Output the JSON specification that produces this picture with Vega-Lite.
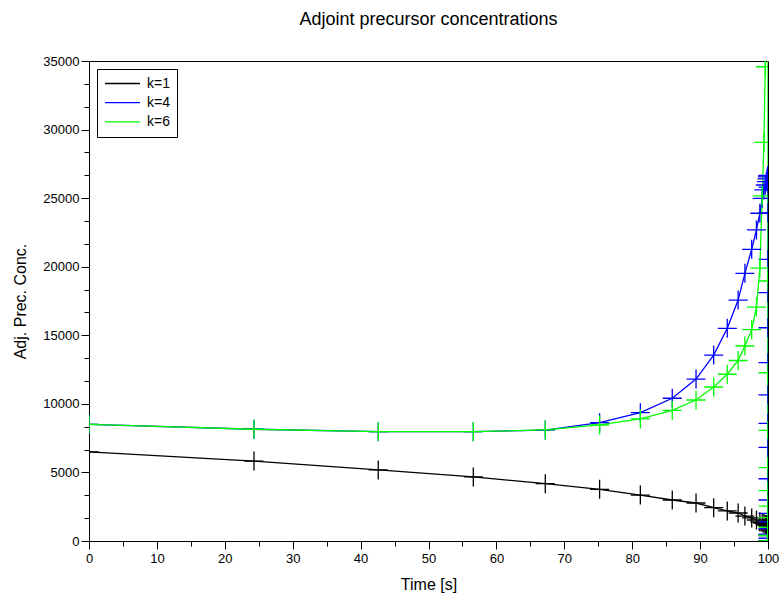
{
  "$schema": "https://vega.github.io/schema/vega-lite/v6.json",
  "width": 679,
  "height": 480,
  "autosize": "none",
  "padding": {"left": 89, "top": 61, "right": 16, "bottom": 59},
  "background": "white",
  "title": {"text": "Adjoint precursor concentrations", "fontSize": 18, "font": "Liberation Sans", "fontWeight": "normal", "color": "black", "offset": 26, "anchor": "middle", "frame": "group"},
  "config": {
    "view": {"stroke": "black", "strokeWidth": 1},
    "axis": {"domainColor": "black", "tickColor": "black", "labelColor": "black", "titleColor": "black", "grid": false, "labelFont": "Liberation Sans", "titleFont": "Liberation Sans", "labelFontSize": 13, "titleFontSize": 16, "titleFontWeight": "normal", "tickWidth": 1, "domainWidth": 1}
  },
  "data": {"values": [
    {"i": 0, "k": "k=1", "t": 0, "v": 6500},
    {"i": 1, "k": "k=1", "t": 24.3, "v": 5830},
    {"i": 2, "k": "k=1", "t": 42.6, "v": 5180},
    {"i": 3, "k": "k=1", "t": 56.6, "v": 4670},
    {"i": 4, "k": "k=1", "t": 67.2, "v": 4180},
    {"i": 5, "k": "k=1", "t": 75.2, "v": 3770},
    {"i": 6, "k": "k=1", "t": 81.2, "v": 3350},
    {"i": 7, "k": "k=1", "t": 85.9, "v": 2990},
    {"i": 8, "k": "k=1", "t": 89.4, "v": 2770},
    {"i": 9, "k": "k=1", "t": 92.0, "v": 2430},
    {"i": 10, "k": "k=1", "t": 94.0, "v": 2190},
    {"i": 11, "k": "k=1", "t": 95.6, "v": 2040},
    {"i": 12, "k": "k=1", "t": 96.6, "v": 1820},
    {"i": 13, "k": "k=1", "t": 97.6, "v": 1680},
    {"i": 14, "k": "k=1", "t": 98.3, "v": 1530},
    {"i": 15, "k": "k=1", "t": 98.8, "v": 1400},
    {"i": 16, "k": "k=1", "t": 99.15, "v": 1330},
    {"i": 17, "k": "k=1", "t": 99.4, "v": 1280},
    {"i": 18, "k": "k=1", "t": 99.6, "v": 1230},
    {"i": 19, "k": "k=1", "t": 99.75, "v": 1190},
    {"i": 20, "k": "k=1", "t": 99.85, "v": 1160},
    {"i": 21, "k": "k=1", "t": 99.92, "v": 1140},
    {"i": 22, "k": "k=1", "t": 99.97, "v": 1120},
    {"i": 23, "k": "k=1", "t": 100, "v": 800},
    {"i": 24, "k": "k=1", "t": 100, "v": 400},
    {"i": 25, "k": "k=1", "t": 100, "v": 0},

    {"i": 30, "k": "k=4", "t": 0, "v": 8510},
    {"i": 31, "k": "k=4", "t": 24.3, "v": 8150},
    {"i": 32, "k": "k=4", "t": 42.6, "v": 7970},
    {"i": 33, "k": "k=4", "t": 56.6, "v": 7970},
    {"i": 34, "k": "k=4", "t": 67.2, "v": 8090},
    {"i": 35, "k": "k=4", "t": 75.2, "v": 8630},
    {"i": 36, "k": "k=4", "t": 81.2, "v": 9360},
    {"i": 37, "k": "k=4", "t": 85.9, "v": 10410},
    {"i": 38, "k": "k=4", "t": 89.4, "v": 11810},
    {"i": 39, "k": "k=4", "t": 92.0, "v": 13560},
    {"i": 40, "k": "k=4", "t": 94.0, "v": 15510},
    {"i": 41, "k": "k=4", "t": 95.6, "v": 17570},
    {"i": 42, "k": "k=4", "t": 96.6, "v": 19520},
    {"i": 43, "k": "k=4", "t": 97.6, "v": 21270},
    {"i": 44, "k": "k=4", "t": 98.3, "v": 22680},
    {"i": 45, "k": "k=4", "t": 98.8, "v": 23900},
    {"i": 46, "k": "k=4", "t": 99.15, "v": 24990},
    {"i": 47, "k": "k=4", "t": 99.4, "v": 25600},
    {"i": 48, "k": "k=4", "t": 99.6, "v": 25960},
    {"i": 49, "k": "k=4", "t": 99.75, "v": 26200},
    {"i": 50, "k": "k=4", "t": 99.85, "v": 26400},
    {"i": 51, "k": "k=4", "t": 99.92, "v": 26550},
    {"i": 52, "k": "k=4", "t": 99.97, "v": 26650},
    {"i": 53, "k": "k=4", "t": 100, "v": 25800},
    {"i": 54, "k": "k=4", "t": 100, "v": 23930},
    {"i": 55, "k": "k=4", "t": 100, "v": 20540},
    {"i": 56, "k": "k=4", "t": 100, "v": 18110},
    {"i": 57, "k": "k=4", "t": 100, "v": 15550},
    {"i": 58, "k": "k=4", "t": 100, "v": 13000},
    {"i": 59, "k": "k=4", "t": 100, "v": 10650},
    {"i": 60, "k": "k=4", "t": 100, "v": 8580},
    {"i": 61, "k": "k=4", "t": 100, "v": 6830},
    {"i": 62, "k": "k=4", "t": 100, "v": 4540},
    {"i": 63, "k": "k=4", "t": 100, "v": 2990},
    {"i": 64, "k": "k=4", "t": 100, "v": 2020},
    {"i": 65, "k": "k=4", "t": 100, "v": 1400},
    {"i": 66, "k": "k=4", "t": 100, "v": 900},
    {"i": 67, "k": "k=4", "t": 100, "v": 500},
    {"i": 68, "k": "k=4", "t": 100, "v": 200},
    {"i": 69, "k": "k=4", "t": 100, "v": 0},

    {"i": 70, "k": "k=6", "t": 0, "v": 8510},
    {"i": 71, "k": "k=6", "t": 24.3, "v": 8150},
    {"i": 72, "k": "k=6", "t": 42.6, "v": 7970},
    {"i": 73, "k": "k=6", "t": 56.6, "v": 7970},
    {"i": 74, "k": "k=6", "t": 67.2, "v": 8100},
    {"i": 75, "k": "k=6", "t": 75.2, "v": 8460},
    {"i": 76, "k": "k=6", "t": 81.2, "v": 8900},
    {"i": 77, "k": "k=6", "t": 85.9, "v": 9520},
    {"i": 78, "k": "k=6", "t": 89.4, "v": 10280},
    {"i": 79, "k": "k=6", "t": 92.0, "v": 11230},
    {"i": 80, "k": "k=6", "t": 94.0, "v": 12160},
    {"i": 81, "k": "k=6", "t": 95.6, "v": 13160},
    {"i": 82, "k": "k=6", "t": 96.6, "v": 14220},
    {"i": 83, "k": "k=6", "t": 97.6, "v": 15410},
    {"i": 84, "k": "k=6", "t": 98.3, "v": 17060},
    {"i": 85, "k": "k=6", "t": 98.8, "v": 19890},
    {"i": 86, "k": "k=6", "t": 99.15, "v": 25170},
    {"i": 87, "k": "k=6", "t": 99.4, "v": 29070},
    {"i": 88, "k": "k=6", "t": 99.6, "v": 34580},
    {"i": 89, "k": "k=6", "t": 99.75, "v": 40000},
    {"i": 90, "k": "k=6", "t": 99.85, "v": 45000},
    {"i": 91, "k": "k=6", "t": 99.92, "v": 50000},
    {"i": 92, "k": "k=6", "t": 99.97, "v": 54000},
    {"i": 93, "k": "k=6", "t": 100, "v": 50000},
    {"i": 94, "k": "k=6", "t": 100, "v": 18960},
    {"i": 95, "k": "k=6", "t": 100, "v": 12270},
    {"i": 96, "k": "k=6", "t": 100, "v": 8070},
    {"i": 97, "k": "k=6", "t": 100, "v": 5345},
    {"i": 98, "k": "k=6", "t": 100, "v": 3670},
    {"i": 99, "k": "k=6", "t": 100, "v": 2550},
    {"i": 100, "k": "k=6", "t": 100, "v": 1700},
    {"i": 101, "k": "k=6", "t": 100, "v": 1000},
    {"i": 102, "k": "k=6", "t": 100, "v": 400},
    {"i": 103, "k": "k=6", "t": 100, "v": 0}
  ]},
  "layer": [
    {
      "mark": {"type": "line", "strokeWidth": 1.3, "clip": true},
      "encoding": {
        "x": {"field": "t", "type": "quantitative", "scale": {"domain": [0, 100], "nice": false, "zero": false},
              "axis": {"values": [0,10,20,30,40,50,60,70,80,90,100], "tickSize": 8, "labelPadding": 3, "title": "Time [s]", "titlePadding": 11, "labelFlush": false, "orient": "bottom"}},
        "y": {"field": "v", "type": "quantitative", "scale": {"domain": [0, 35000], "nice": false},
              "axis": {"values": [0,5000,10000,15000,20000,25000,30000,35000], "format": "d", "tickSize": 8, "labelPadding": 2, "title": "Adj. Prec. Conc.", "titlePadding": 14, "labelFlush": false, "orient": "left"}},
        "color": {"field": "k", "type": "nominal", "scale": {"domain": ["k=1", "k=4", "k=6"], "range": ["#000000", "#0000ff", "#00ff00"]},
                  "legend": {"orient": "none", "legendX": 8, "legendY": 8, "title": null, "symbolType": "stroke", "symbolSize": 1225, "symbolStrokeWidth": 1.3, "labelFont": "Liberation Sans", "labelFontSize": 14, "labelColor": "black", "strokeColor": "black", "fillColor": "white", "padding": 7, "labelOffset": 6, "rowPadding": 4.2, "clipHeight": 15, "cornerRadius": 0}},
        "order": {"field": "i", "type": "quantitative"}
      }
    },
    {
      "mark": {"type": "point", "shape": "M-1,0H1M0,-1V1", "size": 361, "filled": false, "strokeWidth": 1.3, "clip": true, "opacity": 1},
      "encoding": {
        "x": {"field": "t", "type": "quantitative", "axis": null},
        "y": {"field": "v", "type": "quantitative", "axis": null},
        "color": {"field": "k", "type": "nominal", "legend": null}
      }
    },
    {
      "mark": {"type": "point", "opacity": 0, "clip": true},
      "encoding": {
        "x": {"field": "t", "type": "quantitative", "axis": {"values": [5,15,25,35,45,55,65,75,85,95], "tickSize": 5, "labels": false, "domain": false, "title": null, "orient": "bottom"}},
        "y": {"field": "v", "type": "quantitative", "axis": {"values": [1666.67,3333.33,6666.67,8333.33,11666.67,13333.33,16666.67,18333.33,21666.67,23333.33,26666.67,28333.33,31666.67,33333.33], "tickSize": 5, "labels": false, "domain": false, "title": null, "orient": "left"}}
      }
    }
  ],
  "resolve": {"axis": {"x": "independent", "y": "independent"}}
}
